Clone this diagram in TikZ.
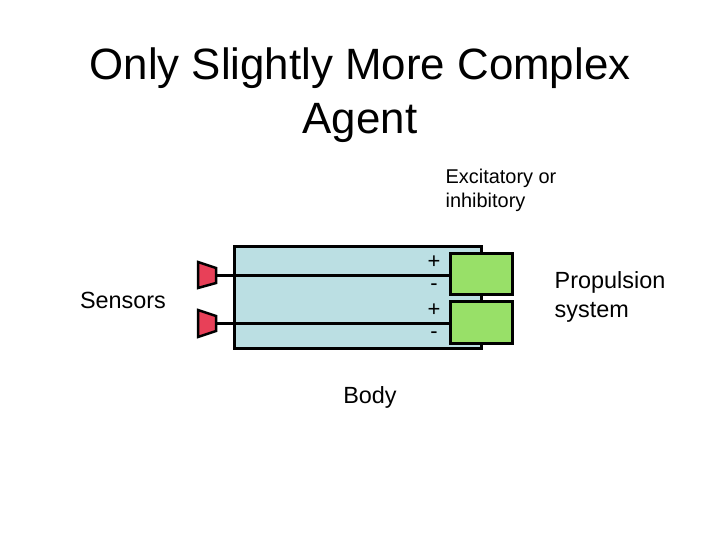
\documentclass[tikz,border=0pt]{standalone}
\usepackage{fontspec}
\setmainfont{Liberation Sans}
\begin{document}
\begin{tikzpicture}[x=1bp,y=-1bp,line width=3bp,
  lbl/.style={font=\fontsize{23.5}{29}\selectfont,align=left},
  pm/.style={font=\fontsize{22}{24}\selectfont,inner sep=0pt,text height=1.2ex,text depth=0pt},
  sens/.style={fill={rgb,255:red,232;green,64;blue,88},draw=black,line width=2.5bp,line join=miter},
  motor/.style={fill={rgb,255:red,152;green,224;blue,104},draw=black,inner sep=0,anchor=north west}]
\useasboundingbox (0,0) rectangle (720,540);
\node[font=\fontsize{44}{54}\selectfont,align=center] (title) at (360,95) {Only Slightly More Complex\\Agent};
\node[draw=black,minimum width=247bp,minimum height=102bp,inner sep=0,anchor=north west,fill={rgb,255:red,187;green,223;blue,227}] (body) at (233,245) {};
\node[motor,minimum width=62bp,minimum height=41bp] (m1) at (449,252) {};
\node[motor,minimum width=62bp,minimum height=42bp] (m2) at (449,300) {};
\coordinate (s1) at (216,275);
\coordinate (s2) at (216,323);
\draw[sens] (198,262)--(216,268)--(216,283)--(198,288)--cycle;
\draw[sens] (198,310)--(216,316)--(216,331)--(198,337)--cycle;
\draw (s1) -- (s1 -| m1.west);
\draw (s2) -- (s2 -| m2.west);
\node[pm] (p1) at (434,265) {+};
\node[pm] (n1) at (434,287) {-};
\node[pm] (p2) at (434,313) {+};
\node[pm] (n2) at (434,335) {-};
\node[lbl] (sensors) at (123,300) {Sensors};
\node[lbl] (bodylbl) at (370,397) {Body};
\node[lbl,align=left] (prop) at (610,297) {Propulsion\\system};
\node[font=\fontsize{20}{24}\selectfont,align=left] (exc) at (501,190) {Excitatory or\\inhibitory};
\end{tikzpicture}
\end{document}
